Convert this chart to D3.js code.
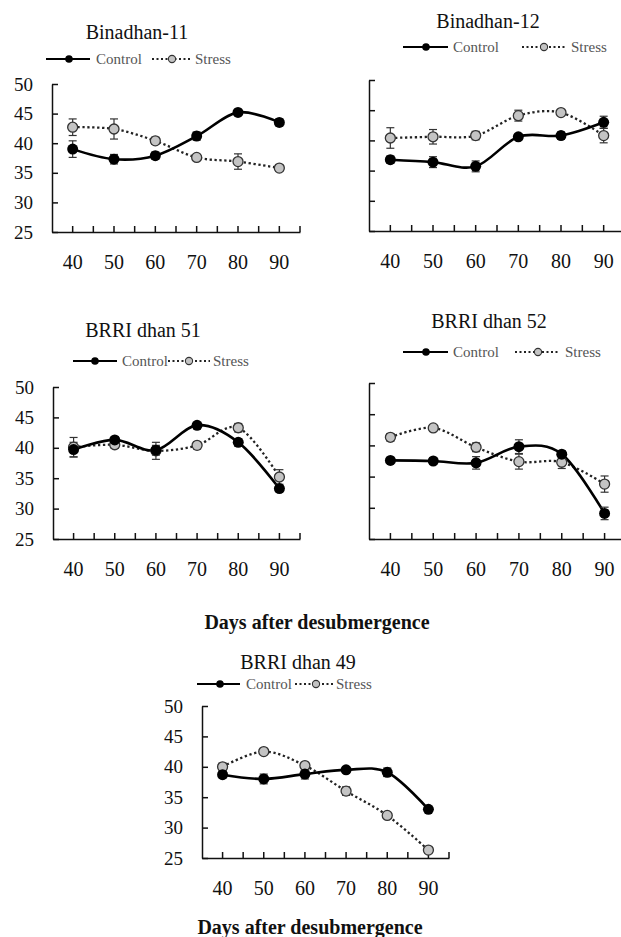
<!DOCTYPE html>
<html>
<head>
<meta charset="utf-8">
<script src="https://cdn.jsdelivr.net/npm/d3@7"></script>
<style>
  body { margin: 0; background: #fff; }
  svg { display: block; }
  svg text { font-family: 'Liberation Serif', 'DejaVu Serif', serif; }
</style>
</head>
<body>
<div id="chart"></div>
<script>
// Days after desubmergence (x categories) and y ticks
const days = [40, 50, 60, 70, 80, 90];
const yTicks = [25, 30, 35, 40, 45, 50];

// Binadhan-11
const b11Control = [39.0, 37.3, 37.9, 41.2, 45.2, 43.5];
const b11ControlErr = [1.4, 0.8, 0.6, 0.7, 0.5, 0.6];
const b11Stress = [42.7, 42.4, 40.4, 37.6, 36.9, 35.8];
const b11StressErr = [1.4, 1.7, 0.6, 0.3, 1.3, 0.5];

// Binadhan-12
const b12Control = [36.8, 36.4, 35.7, 40.6, 40.8, 43.0];
const b12ControlErr = [0.6, 0.9, 0.9, 0.4, 0.6, 1.0];
const b12Stress = [40.4, 40.6, 40.8, 44.1, 44.6, 40.8];
const b12StressErr = [1.7, 1.2, 0.7, 0.9, 0.4, 1.2];

// BRRI dhan 51
const d51Control = [39.7, 41.3, 39.6, 43.7, 40.9, 33.3];
const d51ControlErr = [1.2, 0.5, 0.8, 0.4, 0.6, 0.5];
const d51Stress = [40.1, 40.5, 39.5, 40.4, 43.3, 35.2];
const d51StressErr = [1.6, 0.6, 1.4, 0.6, 0.7, 1.2];

// BRRI dhan 52
const d52Control = [37.6, 37.5, 37.2, 39.8, 38.6, 29.1];
const d52ControlErr = [0.4, 0.5, 1.0, 1.1, 0.5, 1.0];
const d52Stress = [41.3, 42.8, 39.7, 37.4, 37.3, 33.8];
const d52StressErr = [0.6, 0.3, 0.7, 1.2, 1.0, 1.3];

// BRRI dhan 49
const d49Control = [38.7, 38.0, 38.8, 39.5, 39.1, 33.0];
const d49ControlErr = [0.5, 0.8, 0.8, 0.4, 0.7, 0.3];
const d49Stress = [40.0, 42.5, 40.2, 36.0, 32.0, 26.3];
const d49StressErr = [0.6, 0.4, 0.4, 0.7, 0.4, 0.4];

const width = 621, height = 937;
const serif = "'Liberation Serif', 'DejaVu Serif', serif";

const svg = d3.select('#chart').append('svg')
    .attr('width', width)
    .attr('height', height);

// Panel layout: axis box, title and legend positions
const panels = [
    { title: 'Binadhan-11', control: b11Control, controlErr: b11ControlErr, stress: b11Stress, stressErr: b11StressErr,
      x0: 52, x1: 300, yTop: 84, yBot: 232, yLabels: true,
      titleX: 137, titleY: 39,
      leg: { y: 59, l0: 46, l1: 90, c: 69, ct: 96, d0: 152, d1: 190, s: 172, st: 195 } },
    { title: 'Binadhan-12', control: b12Control, controlErr: b12ControlErr, stress: b12Stress, stressErr: b12StressErr,
      x0: 369, x1: 625, yTop: 80, yBot: 231, yLabels: false,
      titleX: 488, titleY: 28,
      leg: { y: 47, l0: 403, l1: 448, c: 426, ct: 453, d0: 522, d1: 567, s: 544, st: 571 } },
    { title: 'BRRI dhan 51', control: d51Control, controlErr: d51ControlErr, stress: d51Stress, stressErr: d51StressErr,
      x0: 53, x1: 300, yTop: 387, yBot: 539, yLabels: true,
      titleX: 143, titleY: 337,
      leg: { y: 361, l0: 73, l1: 117, c: 95, ct: 122, d0: 168, d1: 210, s: 189, st: 213 } },
    { title: 'BRRI dhan 52', control: d52Control, controlErr: d52ControlErr, stress: d52Stress, stressErr: d52StressErr,
      x0: 369, x1: 626, yTop: 383, yBot: 539, yLabels: false,
      titleX: 489, titleY: 328,
      leg: { y: 352, l0: 403, l1: 448, c: 426, ct: 453, d0: 515, d1: 560, s: 538, st: 565 } },
    { title: 'BRRI dhan 49', control: d49Control, controlErr: d49ControlErr, stress: d49Stress, stressErr: d49StressErr,
      x0: 202, x1: 449, yTop: 706, yBot: 858, yLabels: true,
      titleX: 298, titleY: 669,
      leg: { y: 684, l0: 197, l1: 240, c: 220, ct: 246, d0: 295, d1: 333, s: 316, st: 336 } }
];

function drawPanel(p) {
    const g = svg.append('g');

    const x = d3.scaleBand().domain(days).range([p.x0, p.x1]).padding(0);
    const cx = d => x(d) + x.bandwidth() / 2;
    const y = d3.scaleLinear().domain([25, 50]).range([p.yBot, p.yTop]);

    // Y axis (ticks point inward)
    const yAxis = g.append('g')
        .attr('transform', `translate(${p.x0},0)`)
        .call(d3.axisLeft(y).tickValues(yTicks).tickSizeInner(-6).tickSizeOuter(0).tickPadding(19));
    yAxis.attr('font-family', serif);
    yAxis.select('.domain').attr('stroke', '#111').attr('stroke-width', 1.5);
    yAxis.selectAll('.tick line').attr('stroke', '#111').attr('stroke-width', 1.5);
    yAxis.selectAll('.tick text')
        .attr('font-size', 19).attr('fill', '#111')
        .style('display', p.yLabels ? null : 'none');

    // X axis: ticks at category centres and between categories
    const xAxis = g.append('g')
        .attr('transform', `translate(0,${p.yBot})`)
        .call(d3.axisBottom(x).tickSizeInner(-6).tickSizeOuter(0).tickPadding(23));
    xAxis.attr('font-family', serif);
    xAxis.select('.domain').attr('stroke', '#111').attr('stroke-width', 1.5);
    xAxis.selectAll('.tick line').attr('stroke', '#111').attr('stroke-width', 1.5);
    xAxis.selectAll('.tick text')
        .attr('font-size', 20).attr('fill', '#111');
    xAxis.selectAll('.boundary')
        .data(days)
        .enter().append('line')
        .attr('x1', d => x(d) + x.bandwidth())
        .attr('x2', d => x(d) + x.bandwidth())
        .attr('y1', 0).attr('y2', -6)
        .attr('stroke', '#111').attr('stroke-width', 1.5);

    const line = d3.line().x((d, i) => cx(days[i])).y(d => y(d)).curve(d3.curveCardinal.tension(0));

    // Stress (dotted)
    g.append('path')
        .datum(p.stress)
        .attr('d', line)
        .attr('fill', 'none')
        .attr('stroke', '#222')
        .attr('stroke-width', 2.3)
        .attr('stroke-dasharray', '2.3,2.6');

    // Control (solid)
    g.append('path')
        .datum(p.control)
        .attr('d', line)
        .attr('fill', 'none')
        .attr('stroke', '#000')
        .attr('stroke-width', 2.6);

    // Error bars
    function errBars(vals, errs) {
        const eg = g.append('g').attr('stroke', '#333').attr('stroke-width', 1.2);
        vals.forEach((v, i) => {
            const xc = cx(days[i]);
            const lo = y(v - errs[i]), hi = y(v + errs[i]);
            eg.append('line').attr('x1', xc).attr('x2', xc).attr('y1', lo).attr('y2', hi);
            eg.append('line').attr('x1', xc - 4).attr('x2', xc + 4).attr('y1', lo).attr('y2', lo);
            eg.append('line').attr('x1', xc - 4).attr('x2', xc + 4).attr('y1', hi).attr('y2', hi);
        });
    }
    errBars(p.stress, p.stressErr);
    errBars(p.control, p.controlErr);

    // Markers
    g.append('g').selectAll('circle')
        .data(p.stress)
        .enter().append('circle')
        .attr('cx', (d, i) => cx(days[i]))
        .attr('cy', d => y(d))
        .attr('r', 5)
        .attr('fill', '#c4c4c4')
        .attr('stroke', '#333')
        .attr('stroke-width', 1.3);

    g.append('g').selectAll('circle')
        .data(p.control)
        .enter().append('circle')
        .attr('cx', (d, i) => cx(days[i]))
        .attr('cy', d => y(d))
        .attr('r', 5.5)
        .attr('fill', '#000');

    // Title
    g.append('text')
        .attr('x', p.titleX).attr('y', p.titleY)
        .attr('text-anchor', 'middle')
        .attr('font-size', 20).attr('fill', '#111')
        .text(p.title);

    // Legend
    const L = p.leg;
    g.append('line').attr('x1', L.l0).attr('x2', L.l1).attr('y1', L.y).attr('y2', L.y)
        .attr('stroke', '#000').attr('stroke-width', 2.2);
    g.append('circle').attr('cx', L.c).attr('cy', L.y).attr('r', 3.8).attr('fill', '#000');
    g.append('text').attr('x', L.ct).attr('y', L.y + 5)
        .attr('font-size', 15).attr('fill', '#555')
        .text('Control');
    g.append('line').attr('x1', L.d0).attr('x2', L.d1).attr('y1', L.y).attr('y2', L.y)
        .attr('stroke', '#222').attr('stroke-width', 2).attr('stroke-dasharray', '2,2.5');
    g.append('circle').attr('cx', L.s).attr('cy', L.y).attr('r', 3.6)
        .attr('fill', '#c4c4c4').attr('stroke', '#333').attr('stroke-width', 1.1);
    g.append('text').attr('x', L.st).attr('y', L.y + 5)
        .attr('font-size', 15).attr('fill', '#555')
        .text('Stress');
}

panels.forEach(drawPanel);

// Shared x axis titles
svg.append('text')
    .attr('x', 317).attr('y', 629)
    .attr('text-anchor', 'middle')
    .attr('font-size', 20).attr('font-weight', 'bold').attr('fill', '#111')
    .text('Days after desubmergence');
svg.append('text')
    .attr('x', 310).attr('y', 934)
    .attr('text-anchor', 'middle')
    .attr('font-size', 20).attr('font-weight', 'bold').attr('fill', '#111')
    .text('Days after desubmergence');
</script>
</body>
</html>
